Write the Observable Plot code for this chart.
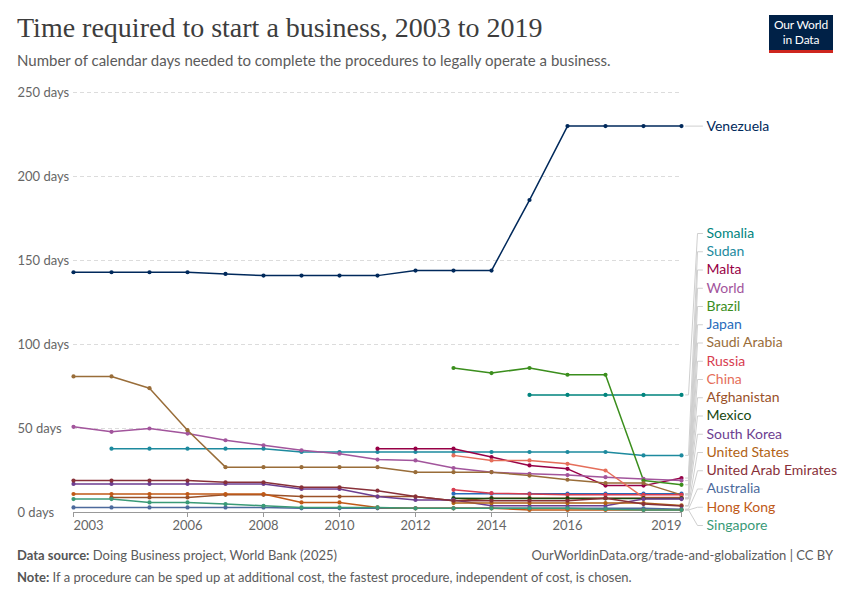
<!DOCTYPE html>
<html><head><meta charset="utf-8">
<script src="https://cdn.jsdelivr.net/npm/d3@7"></script>
<script src="https://cdn.jsdelivr.net/npm/@observablehq/plot@0.6"></script>
<style>
body{margin:0;background:#fff;font-family:Lato,"Noto Sans",sans-serif;}
#wrap{position:relative;width:850px;height:600px;overflow:hidden;}
#title{position:absolute;left:17px;top:12px;font-family:"Liberation Serif",serif;font-size:28px;color:#3d3d3d;white-space:nowrap;}
#subtitle{position:absolute;left:17px;top:51px;font-size:15px;color:#5b5b5b;white-space:nowrap;}
#logo{position:absolute;left:769px;top:15px;width:64px;height:35px;background:#002147;border-bottom:3px solid #ce261e;}
#logo div{position:absolute;left:0;width:64px;text-align:center;color:#fff;font-size:12px;line-height:12px;letter-spacing:-0.2px;}
#chart{position:absolute;left:0;top:80px;}
.foot{position:absolute;font-size:13px;color:#5b5b5b;white-space:nowrap;}
.foot b{font-weight:700;color:#555;}
</style>
</head><body>
<div id="wrap">
  <div id="title">Time required to start a business, 2003 to 2019</div>
  <div id="subtitle">Number of calendar days needed to complete the procedures to legally operate a business.</div>
  <div id="logo"><div style="top:4px;">Our World</div><div style="top:19px;">in Data</div></div>
  <div id="chart"></div>
  <div class="foot" style="left:17px;top:547px;"><b>Data source:</b> Doing Business project, World Bank (2025)</div>
  <div class="foot" style="right:17px;top:547px;">OurWorldinData.org/trade-and-globalization | CC BY</div>
  <div class="foot" style="left:17px;top:569px;"><b>Note:</b> If a procedure can be sped up at additional cost, the fastest procedure, independent of cost, is chosen.</div>
</div>
<script>
const years = [2003,2004,2005,2006,2007,2008,2009,2010,2011,2012,2013,2014,2015,2016,2017,2018,2019];
const venezuela   = [143,143,143,143,142,141,141,141,141,144,144,144,186,230,230,230,230];
const somalia     = [null,null,null,null,null,null,null,null,null,null,null,null,70,70,70,70,70];
const sudan       = [null,38,38,38,38,38,36,36,36,36,36,36,36,36,36,34,34];
const malta       = [null,null,null,null,null,null,null,null,38,38,38,33,28,26,16,16,20.5];
const world       = [51,48,50,47,43,40,37,35,31.5,31,26.5,24,23,22.3,21,20,19];
const brazil      = [null,null,null,null,null,null,null,null,null,null,86,83,86,82,82,19,16.5];
const japan       = [null,null,null,null,null,null,null,null,null,null,11.2,11.2,11.2,11.2,11.2,11.2,11.2];
const saudiArabia = [81,81,74,49,27,27,27,27,27,24,24,24,22,19.5,17.5,17.5,10.5];
const russia      = [null,null,null,null,null,null,null,null,null,null,13.5,11.5,11,10.5,10.5,10.5,10.5];
const china       = [null,null,null,null,null,null,null,null,null,null,34,31,31,29,25,9,9];
const afghanistan = [null,9,9,9,10.5,10.5,9.5,9.5,9.5,9.5,7,8.5,8.5,8.5,8.5,8.5,8.5];
const mexico      = [null,null,null,null,null,null,null,null,null,null,8.5,8.4,8.4,8.4,8.4,8.4,8.4];
const southKorea  = [17,17,17,17,17,17,14,14,9.5,7.5,7.5,4,4,4,4,8,8];
const unitedStates= [null,null,null,null,null,null,null,null,null,null,5.6,5.6,5.6,5.6,5.6,5.6,4.2];
const uae         = [19,19,19,19,18,18,15,15,13,9.5,7,7,7,7,8.5,5,3.8];
const australia   = [3,3,3,3,3,3,2.5,2.5,2.5,2.5,2.5,2.5,2.5,2.5,2.5,2.5,2];
const hongKong    = [11,11,11,11,11,11,6,6,3,2.5,2.5,2.5,1.5,1.5,1.5,1.5,1.5];
const singapore   = [8,8,6,6,5,4,3,3,3,2.5,2.5,2.5,2.5,2.5,2,1.5,1.5];

const countries = ["Venezuela","Somalia","Sudan","Malta","World","Brazil","Japan","Saudi Arabia","Russia","China","Afghanistan","Mexico","South Korea","United States","United Arab Emirates","Australia","Hong Kong","Singapore"];
const seriesValues = [venezuela,somalia,sudan,malta,world,brazil,japan,saudiArabia,russia,china,afghanistan,mexico,southKorea,unitedStates,uae,australia,hongKong,singapore];
const colors = ["#00295b","#00847e","#1d8a9e","#970046","#a2559c","#3b8e1d","#286bbb","#996d39","#d73c50","#e56e5a","#9a5129","#18470f","#6d3e91","#b16214","#883039","#4c6a9c","#c05917","#3a9a77"];
const yTicks = [0,50,100,150,200,250];
const xTicks = [2003,2006,2008,2010,2012,2014,2016,2019];
// label order in the right-hand column (top to bottom)
const labelOrder = ["Somalia","Sudan","Malta","World","Brazil","Japan","Saudi Arabia","Russia","China","Afghanistan","Mexico","South Korea","United States","United Arab Emirates","Australia","Hong Kong","Singapore"];

const rows = [];
countries.forEach((c,i)=>{
  seriesValues[i].forEach((v,j)=>{ if(v!=null) rows.push({country:c, year:years[j], value:v}); });
});
const lastOf = c => rows.filter(r=>r.country===c).slice(-1)[0];

const W=850,H=460;
const base = {
  width:W, height:H, marginLeft:73, marginRight:169, marginTop:12, marginBottom:28,
  x:{domain:[2003,2019]}, y:{domain:[0,250]},
  color:{domain:countries, range:colors}
};
const probe = Plot.plot({...base, marks:[]});
const xs = probe.scale("x"), ys = probe.scale("y");
const xEnd = xs.apply(2019);
const xAt = px => xs.invert(xEnd + px);

// label layout (pixel space, then back to data space)
const gap = 18.25;
const ideal = labelOrder.map(c=>ys.apply(lastOf(c).value));
const pos = ideal.slice();
for(let i=1;i<pos.length;i++) pos[i]=Math.max(pos[i], pos[i-1]+gap);
const maxBottom = ys.apply(0)+13;
if(pos[pos.length-1]>maxBottom){
  pos[pos.length-1]=maxBottom;
  for(let i=pos.length-2;i>=0;i--) pos[i]=Math.min(pos[i], pos[i+1]-gap);
}
const labels = labelOrder.map((c,i)=>({country:c, y:ys.invert(pos[i]), v:lastOf(c).value}));
const v = lastOf("Venezuela");
labels.push({country:"Venezuela", y:v.value, v:v.value});

const conn = [];
labels.forEach(l=>{
  const pts = l.country==="Venezuela"
    ? [[4,l.v],[21,l.y]]
    : [[4,l.v],[7,l.v],[16,l.y],[21,l.y]];
  pts.forEach(p=>conn.push({country:l.country, x:xAt(p[0]), y:p[1]}));
});

const plot = Plot.plot({
  ...base,
  style:{fontFamily:"Lato, sans-serif", fontSize:"13px", background:"transparent"},
  marks:[
    Plot.gridY(yTicks.filter(d=>d>0), {stroke:"#dcdcdc", strokeOpacity:1, strokeDasharray:"4,3"}),
    Plot.axisY(yTicks, {tickSize:0, tickPadding:3, textAnchor:"start", dx:-53, fill:"#666", fontSize:13,
      tickFormat:d=>d+" days", label:null}),
    Plot.ruleY([0], {stroke:"#999"}),
    Plot.axisX(xTicks, {tickSize:5, stroke:"#999", tickFormat:()=>"", label:null}),
    Plot.axisX([xTicks[0]], {tickSize:0, tickPadding:8, textAnchor:"start", fill:"#666", fontSize:13, tickFormat:d=>String(d), label:null}),
    Plot.axisX(xTicks.slice(1,-1), {tickSize:0, tickPadding:8, fill:"#666", fontSize:13, tickFormat:d=>String(d), label:null}),
    Plot.axisX([xTicks[xTicks.length-1]], {tickSize:0, tickPadding:8, textAnchor:"end", fill:"#666", fontSize:13, tickFormat:d=>String(d), label:null}),
    Plot.line(conn, {x:"x", y:"y", z:"country", stroke:"#cfcfcf", strokeWidth:1}),
    Plot.line(rows, {x:"year", y:"value", z:"country", stroke:"country", strokeWidth:1.5}),
    Plot.dot(rows, {x:"year", y:"value", fill:"country", r:2.1, stroke:null}),
    Plot.text(labels, {x:2019, y:"y", text:"country", fill:"country", dx:25, textAnchor:"start", fontSize:14})
  ]
});
document.getElementById("chart").appendChild(plot);
</script>
</body></html>
